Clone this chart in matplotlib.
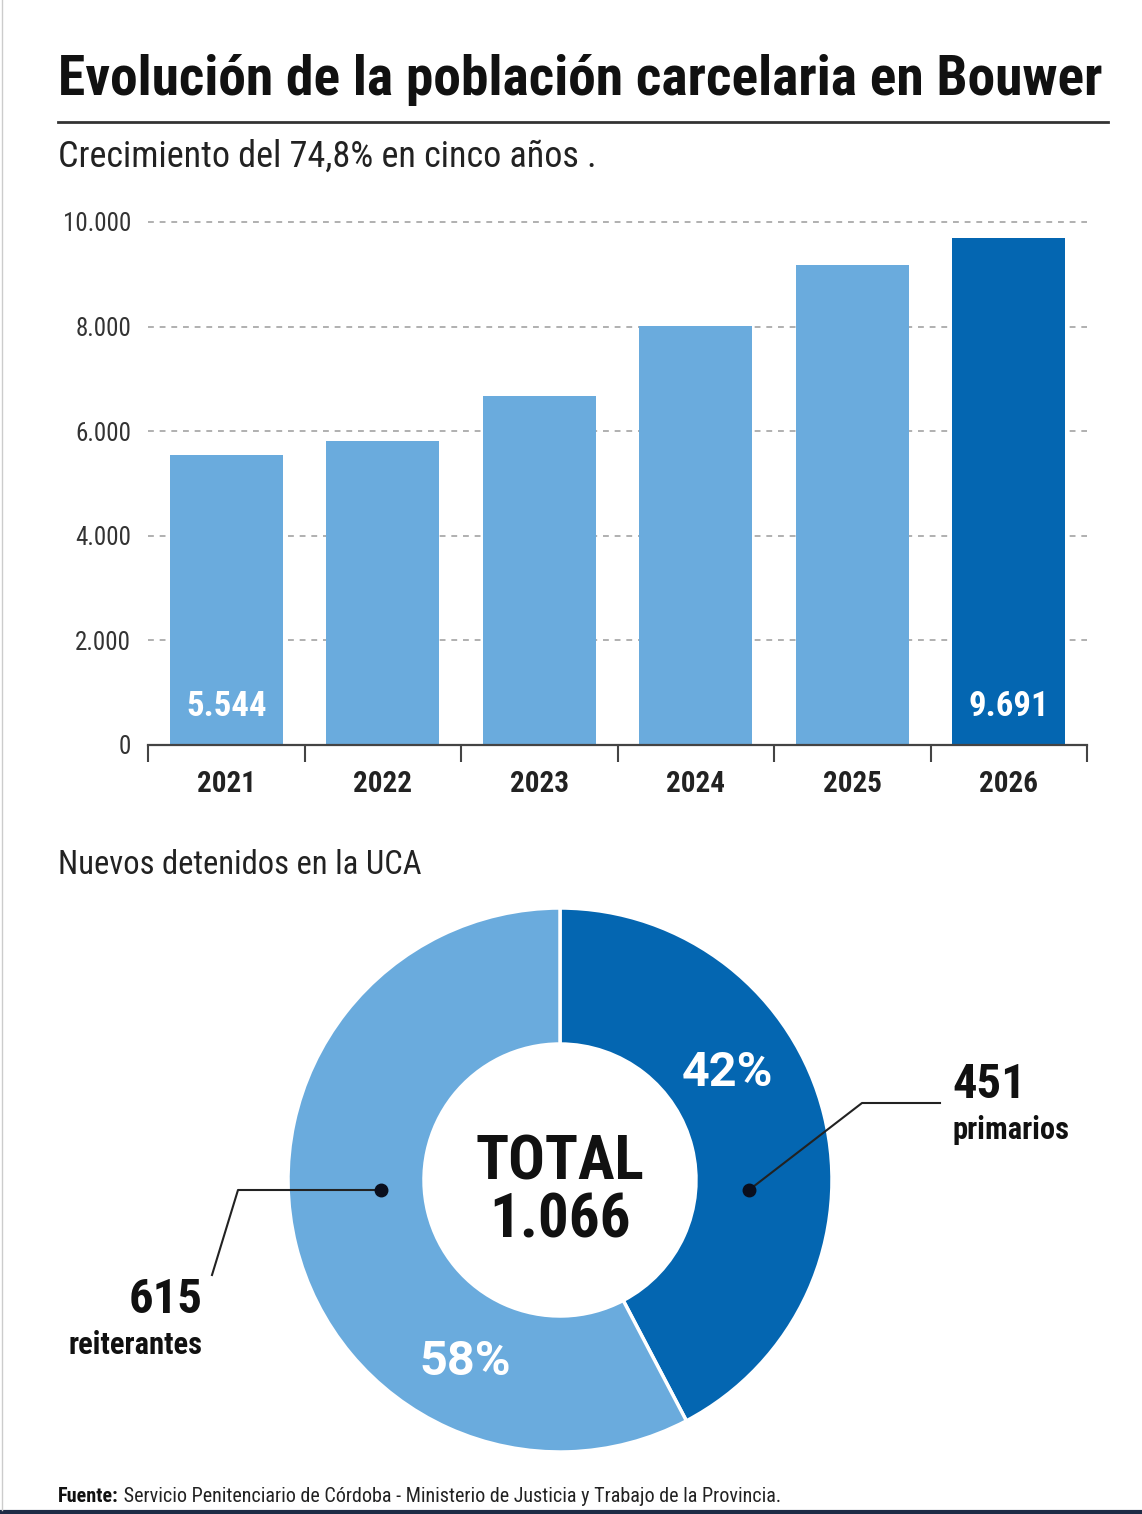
import matplotlib
matplotlib.use("Agg")
import matplotlib.pyplot as plt
from matplotlib import font_manager
from matplotlib.lines import Line2D

# ---------------- data ----------------
years = ["2021", "2022", "2023", "2024", "2025", "2026"]
population = [5544, 5810, 6670, 8020, 9180, 9691]
shown_labels = {0: "5.544", 5: "9.691"}
ytick_values = [0, 2000, 4000, 6000, 8000, 10000]
ytick_labels = ["0", "2.000", "4.000", "6.000", "8.000", "10.000"]

donut_labels = ["primarios", "reiterantes"]
donut_values = [451, 615]
donut_pcts = ["42%", "58%"]
donut_counts = ["451", "615"]
total_label = "1.066"

title = "Evolución de la población carcelaria en Bouwer"
subtitle = "Crecimiento del 74,8% en cinco años ."
section2 = "Nuevos detenidos en la UCA"
source_bold = "Fuente:"
source_text = " Servicio Penitenciario de Córdoba - Ministerio de Justicia y Trabajo de la Provincia."

LIGHT = "#6aabdd"
DARK = "#0466b1"

# ---------------- fonts ----------------
avail = {f.name for f in font_manager.fontManager.ttflist}
def pick(*names):
    for n in names:
        if n in avail:
            return n
    return "DejaVu Sans"
NARROW = pick("Roboto Condensed", "Liberation Sans Narrow", "Open Sans Condensed", "DejaVu Sans")
WIDE = pick("Roboto", "Lato", "DejaVu Sans")
plt.rcParams["font.family"] = [NARROW, "DejaVu Sans"]

W, H = 1142, 1514
fig = plt.figure(figsize=(W / 100, H / 100), dpi=100)
fig.patch.set_facecolor("white")

def fx(px):
    return px / W
def fy(py):
    return 1 - py / H

# ---------------- header ----------------
fig.text(fx(58), fy(80), title, fontsize=40, fontweight="bold", color="#111111",
         va="center", ha="left")
fig.add_artist(Line2D([fx(58), fx(1108)], [fy(122), fy(122)], color="#333333", lw=2))
fig.text(fx(58), fy(157), subtitle, fontsize=26, color="#222222", va="center", ha="left")

# ---------------- bar chart ----------------
y0_px, ymax = 745, 10200
scale = (745 - 222) / 10000.0
top_px = y0_px - ymax * scale
ax = fig.add_axes([fx(148), fy(y0_px), fx(1087) - fx(148), (y0_px - top_px) / H])
x = list(range(len(years)))
colors = [LIGHT] * (len(years) - 1) + [DARK]
ax.bar(x, population, width=0.72, color=colors, zorder=3)
ax.set_xlim(-0.5, len(years) - 0.5)
ax.set_ylim(0, ymax)
ax.set_yticks(ytick_values)
ax.set_yticklabels(ytick_labels, fontsize=18, color="#333333")
ax.yaxis.grid(True, color="#b0b0b0", linestyle=(0, (3, 3)), linewidth=1.4, zorder=0)
ax.tick_params(axis="y", length=0, pad=12)
ax.set_xticks(x)
ax.set_xticklabels(years, fontsize=21, fontweight="bold", color="#222222")
ax.set_xticks([i - 0.5 for i in range(len(years) + 1)], minor=True)
ax.tick_params(axis="x", which="major", length=0, pad=18)
ax.tick_params(axis="x", which="minor", length=12, width=1.5, color="#444444")
for s in ["top", "right", "left"]:
    ax.spines[s].set_visible(False)
ax.spines["bottom"].set_color("#444444")
ax.spines["bottom"].set_linewidth(1.6)
ax.spines["bottom"].set_zorder(4)
for i, lab in shown_labels.items():
    ax.text(x[i], 430, lab, ha="center", va="bottom", color="white",
            fontsize=25, fontweight="bold", zorder=5)

# ---------------- donut ----------------
fig.text(fx(58), fy(865), section2, fontsize=23.5, color="#222222", va="center", ha="left")

R = 272
cx, cy = 560, 1180
pax = fig.add_axes([fx(cx - R), fy(cy + R), 2 * R / W, 2 * R / H])
pax.pie(donut_values, colors=[DARK, LIGHT], startangle=90, counterclock=False,
        radius=1.0, wedgeprops=dict(width=0.5, edgecolor="white", linewidth=2.5))
pax.set_xlim(-1, 1)
pax.set_ylim(-1, 1)
pax.set_aspect("equal")
pax.axis("off")

def dx(px):
    return (px - cx) / R
def dy(py):
    return -(py - cy) / R

pax.text(0, dy(1163), "TOTAL", ha="center", va="center", fontsize=44,
         fontweight="bold", color="#111111")
pax.text(0, dy(1220), total_label, ha="center", va="center", fontsize=44,
         fontweight="bold", color="#111111")
pax.text(dx(727), dy(1073), donut_pcts[0], ha="center", va="center", fontsize=35,
         fontweight="bold", color="white", family=[WIDE, "DejaVu Sans"])
pax.text(dx(465), dy(1362), donut_pcts[1], ha="center", va="center", fontsize=35,
         fontweight="bold", color="white", family=[WIDE, "DejaVu Sans"])

# leader lines
pax.plot([dx(749), dx(862), dx(940)], [dy(1190), dy(1103), dy(1103)],
         color="#222222", lw=1.5, clip_on=False)
pax.plot([dx(381), dx(238), dx(212)], [dy(1190), dy(1190), dy(1275)],
         color="#222222", lw=1.5, clip_on=False)
pax.plot([dx(749), dx(381)], [dy(1190), dy(1190)], "o", color="#0a0f1e",
         markersize=9, clip_on=False, linestyle="none")

fig.text(fx(952), fy(1085), donut_counts[0], fontsize=35, fontweight="bold",
         color="#111111", ha="left", va="center")
fig.text(fx(952), fy(1130), donut_labels[0], fontsize=22, fontweight="bold",
         color="#111111", ha="left", va="center")
fig.text(fx(203), fy(1300), donut_counts[1], fontsize=35, fontweight="bold",
         color="#111111", ha="right", va="center")
fig.text(fx(203), fy(1345), donut_labels[1], fontsize=22, fontweight="bold",
         color="#111111", ha="right", va="center")

# ---------------- footer ----------------
t = fig.text(fx(58), fy(1497), source_bold, fontsize=14.5, fontweight="bold",
             color="#111111", ha="left", va="center")
fig.canvas.draw()
bb = t.get_window_extent()
fig.text(bb.x1 / W, fy(1497), source_text, fontsize=14.5, color="#222222",
         ha="left", va="center")
fig.add_artist(Line2D([0, 1], [fy(1512), fy(1512)], color="#1d2b45", lw=3))
fig.add_artist(Line2D([fx(1.5), fx(1.5)], [fy(1510), 1], color="#cccccc", lw=1))

fig.savefig("out.png", dpi=100, facecolor="white")
